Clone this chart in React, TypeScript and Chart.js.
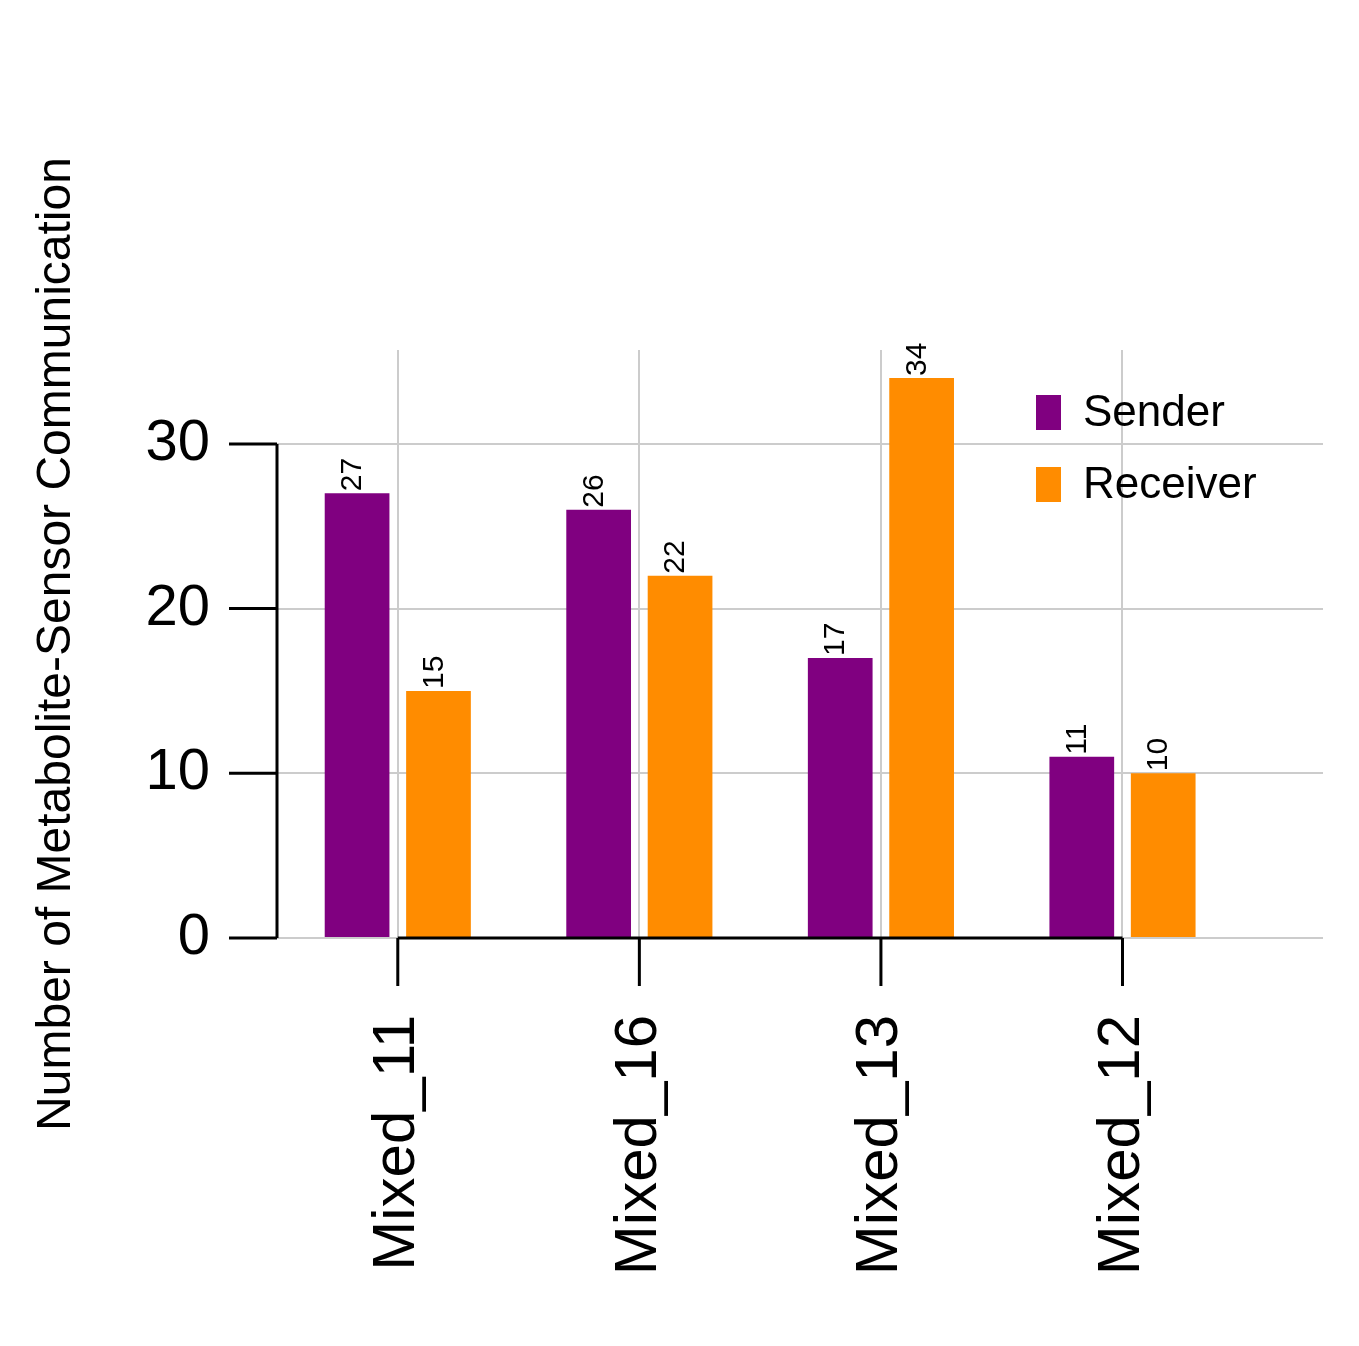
import { useEffect, useRef } from 'react'
import { Chart, registerables } from 'chart.js'

Chart.register(...registerables)

const categories = ['Mixed_11', 'Mixed_16', 'Mixed_13', 'Mixed_12']
const senderValues = [27, 26, 17, 11]
const receiverValues = [15, 22, 34, 10]
const yTicks = [0, 10, 20, 30]
const seriesNames = ['Sender', 'Receiver']
const seriesColors = ['#800080', '#FF8C00']

const FONT = '"Liberation Sans", Arial, sans-serif'

const decorations = {
  id: 'decorations',
  afterDatasetsDraw(chart: any) {
    const ctx = chart.ctx
    const x = chart.scales.x
    const y = chart.scales.y
    const area = chart.chartArea
    ctx.save()
    // spines and ticks
    ctx.strokeStyle = '#000'
    ctx.lineWidth = 3
    ctx.beginPath()
    ctx.moveTo(area.left, y.getPixelForValue(30))
    ctx.lineTo(area.left, area.bottom)
    ctx.moveTo(x.getPixelForValue(0), area.bottom)
    ctx.lineTo(x.getPixelForValue(3), area.bottom)
    yTicks.forEach(v => {
      const py = y.getPixelForValue(v)
      ctx.moveTo(area.left - 48, py)
      ctx.lineTo(area.left, py)
    })
    categories.forEach((_, i) => {
      const px = x.getPixelForValue(i)
      ctx.moveTo(px, area.bottom)
      ctx.lineTo(px, area.bottom + 48)
    })
    ctx.stroke()
    // value labels
    ctx.fillStyle = '#000'
    ctx.font = `30px ${FONT}`
    ctx.textAlign = 'left'
    ctx.textBaseline = 'middle'
    chart.data.datasets.forEach((ds: any, di: number) => {
      chart.getDatasetMeta(di).data.forEach((bar: any, i: number) => {
        ctx.save()
        ctx.translate(bar.x - 4, bar.y - 2)
        ctx.rotate(-Math.PI / 2)
        ctx.fillText(String(ds.data[i].y), 0, 0)
        ctx.restore()
      })
    })
    // legend
    ctx.font = `44px ${FONT}`
    seriesNames.forEach((name, i) => {
      const top = 395 + i * 72
      ctx.fillStyle = seriesColors[i]
      ctx.fillRect(1036, top, 25, 35)
      ctx.fillStyle = '#000'
      ctx.fillText(name, 1083, top + 19)
    })
    ctx.restore()
  },
}

export default function App() {
  const canvasRef = useRef<HTMLCanvasElement>(null)

  useEffect(() => {
    document.body.style.margin = '0'
    const chart = new Chart(canvasRef.current!, {
      type: 'bar',
      data: {
        datasets: [
          {
            label: seriesNames[0],
            data: senderValues.map((v, i) => ({ x: i, y: v })),
            backgroundColor: seriesColors[0],
          },
          {
            label: seriesNames[1],
            data: receiverValues.map((v, i) => ({ x: i, y: v })),
            backgroundColor: seriesColors[1],
          },
        ],
      },
      options: {
        responsive: false,
        animation: false,
        devicePixelRatio: 1,
        layout: { padding: { top: 350, right: 36, left: 0, bottom: 0 } },
        categoryPercentage: 0.674,
        barPercentage: 0.795,
        plugins: { legend: { display: false }, tooltip: { enabled: false } },
        scales: {
          x: {
            type: 'linear',
            offset: false,
            min: -0.5,
            max: 3.83,
            afterBuildTicks: (s: any) => {
              s.ticks = categories.map((_, i) => ({ value: i }))
            },
            afterFit: (s: any) => {
              s.height = 408
            },
            border: { display: false },
            grid: { color: '#cccccc', lineWidth: 2, drawTicks: false, offset: false },
            ticks: {
              autoSkip: false,
              maxRotation: 90,
              minRotation: 90,
              padding: 77,
              color: '#000',
              font: { family: FONT, size: 60 },
              callback: (v: any) => categories[v] ?? '',
            },
          },
          y: {
            min: 0,
            max: 35.7,
            afterBuildTicks: (s: any) => {
              s.ticks = yTicks.map(v => ({ value: v }))
            },
            afterFit: (s: any) => {
              s.width = 277
            },
            border: { display: false },
            grid: { color: '#cccccc', lineWidth: 2, drawTicks: false },
            ticks: {
              padding: 67,
              color: '#000',
              font: { family: FONT, size: 58 },
            },
            title: {
              display: true,
              text: 'Number of Metabolite-Sensor Communication',
              color: '#000',
              font: { family: FONT, size: 48 },
              padding: { top: 28, bottom: 0 },
            },
          },
        },
      } as any,
      plugins: [decorations],
    })
    return () => chart.destroy()
  }, [])

  return (
    <div style={{ width: 1359, height: 1346, background: '#fff' }}>
      <canvas ref={canvasRef} width={1359} height={1346} />
    </div>
  )
}
